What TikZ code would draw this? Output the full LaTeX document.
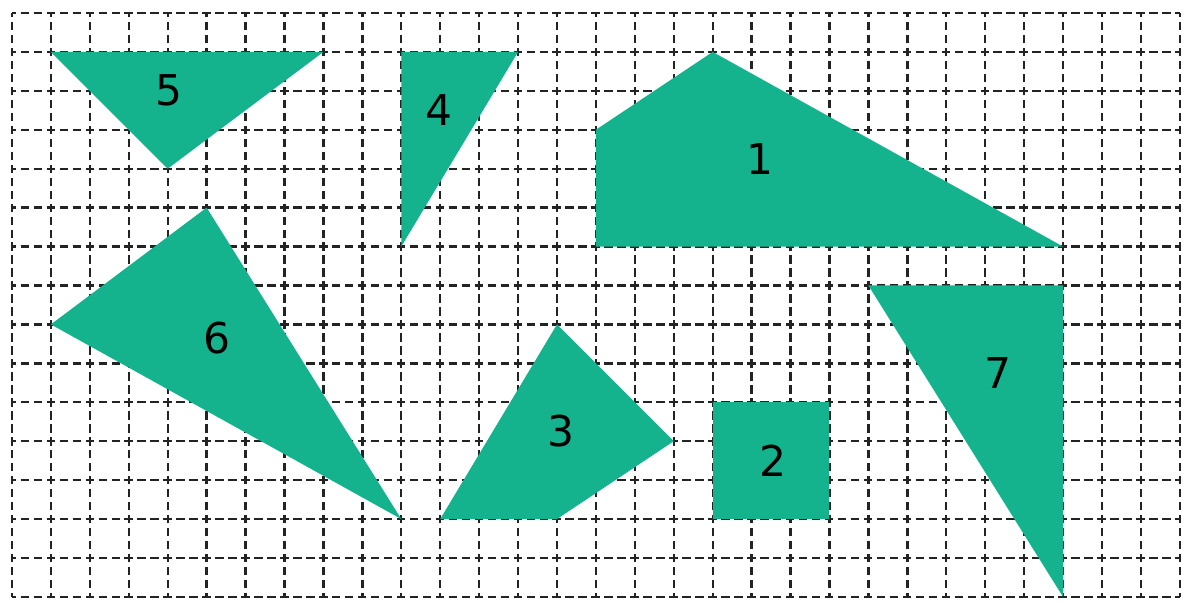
\documentclass[tikz,border=0pt]{standalone}
\usepackage{fontspec}
\setmainfont{DejaVu Sans}
\definecolor{shapegreen}{RGB}{20,179,141}
\definecolor{gridgray}{RGB}{35,35,35}
\tikzset{
  gridline/.style={draw=gridgray, line width=1.7pt, dash pattern=on 6.2pt off 3.28pt, dash phase=3.1pt},
  piece/.style={fill=shapegreen, draw=none},
  lbl/.style={font=\fontsize{31}{36}\selectfont, text=black, inner sep=0pt}
}
\begin{document}
\begin{tikzpicture}[x=1cm,y=1cm]
\useasboundingbox[fill=white] (-0.308,-0.153) rectangle (30.21,15.334);
% grid
\foreach \i in {0,...,30} {\draw[gridline] (\i,0) -- (\i,15);}
\foreach \j in {0,...,15} {\draw[gridline] (0,\j) -- (30,\j);}
% pieces
\fill[piece] (1,14) -- (8,14) -- (4,11) -- cycle;
\fill[piece] (10,14) -- (13,14) -- (10,9) -- cycle;
\fill[piece] (15,12) -- (18,14) -- (27,9) -- (15,9) -- cycle;
\fill[piece] (5,10) -- (1,7) -- (10,2) -- cycle;
\fill[piece] (14,7) -- (17,4) -- (14,2) -- (11,2) -- cycle;
\fill[piece] (18,5) rectangle (21,2);
\fill[piece] (22,8) -- (27,8) -- (27,0) -- cycle;
% labels
\node[lbl] (l1) at (19.21,11.24) {1};
\node[lbl] (l2) at (19.55,3.5) {2};
\node[lbl] (l3) at (14.10,4.27) {3};
\node[lbl] (l4) at (10.97,12.5) {4};
\node[lbl] (l5) at (4.03,13.02) {5};
\node[lbl] (l6) at (5.27,6.66) {6};
\node[lbl] (l7) at (25.33,5.74) {7};
\end{tikzpicture}
\end{document}
